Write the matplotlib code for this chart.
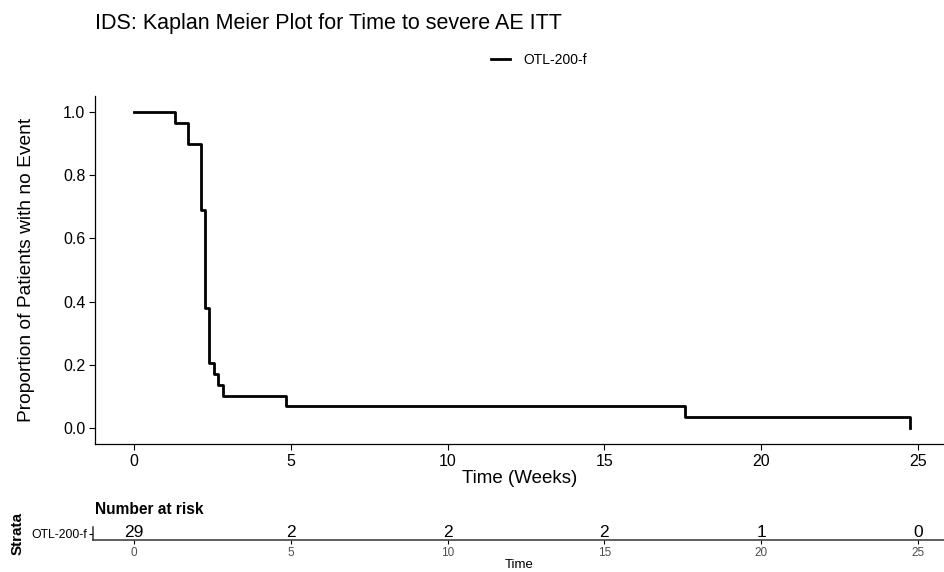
import numpy as np
import matplotlib
matplotlib.use("Agg")
import matplotlib.pyplot as plt

plt.rcParams['font.family'] = ['Liberation Sans', 'DejaVu Sans']

# survival curve (weeks, proportion with no event)
times = [0, 1.31, 1.72, 2.14, 2.27, 2.39, 2.55, 2.68, 2.84, 4.85, 17.57, 24.73]
surv = [1.0, 0.966, 0.897, 0.690, 0.379, 0.207, 0.172, 0.138, 0.103, 0.069, 0.034, 0.0]

# number at risk table
risk_times = [0, 5, 10, 15, 20, 25]
n_risk = [29, 2, 2, 2, 1, 0]
strata = ['OTL-200-f']

W, H = 945, 572
fig = plt.figure(figsize=(W / 100, H / 100), dpi=100)

def box(l, t, r, b):
    return [l / W, 1 - b / H, (r - l) / W, (b - t) / H]

x0, scale = 134, 31.36  # pixel of t=0, pixels per week

ax = fig.add_axes(box(95, 96, 945, 444))
ax.step(times, surv, where='post', color='black', lw=2.0, label=strata[0])
ax.set_xlim((95 - x0) / scale, (945 - x0) / scale)
ax.set_ylim(-0.05, 1.05)
ax.set_xticks([0, 5, 10, 15, 20, 25])
ax.set_yticks([0, 0.2, 0.4, 0.6, 0.8, 1.0])
ax.set_yticklabels(['0.0', '0.2', '0.4', '0.6', '0.8', '1.0'])
ax.tick_params(labelsize=11.5, length=4, width=0.8, colors='black', pad=3)
for s in ['top', 'right']:
    ax.spines[s].set_visible(False)
for s in ['left', 'bottom']:
    ax.spines[s].set_linewidth(0.9)
ax.set_xlabel('Time (Weeks)', fontsize=13.5, labelpad=1)
ax.set_ylabel('Proportion of Patients with no Event', fontsize=13.8, labelpad=20)

fig.text(95 / W, 1 - 29 / H, 'IDS: Kaplan Meier Plot for Time to severe AE ITT',
         fontsize=15.5, va='baseline', ha='left')
fig.legend(loc='center left', bbox_to_anchor=(484 / W, 1 - 60 / H), frameon=False,
           fontsize=10, handlelength=1.4, handletextpad=0.9, borderpad=0)

# risk table
rt = fig.add_axes(box(93, 527, 945, 540))
rt.set_xlim((93 - x0) / scale, (945 - x0) / scale)
rt.set_ylim(-0.5, 0.5)
for t, n in zip(risk_times, n_risk):
    rt.text(t, 0.05, str(n), ha='center', va='center', fontsize=12.5)
rt.set_yticks([0])
rt.set_yticklabels(strata)
rt.set_xticks(risk_times)
rt.tick_params(axis='x', labelsize=8.5, labelcolor='#4d4d4d', length=3, pad=2)
rt.tick_params(axis='y', labelsize=8.8, length=3, pad=1)
for s in ['top', 'right']:
    rt.spines[s].set_visible(False)
for s in ['left', 'bottom']:
    rt.spines[s].set_linewidth(1.1)
    rt.spines[s].set_color('#333333')
rt.set_xlabel('Time', fontsize=9.5, labelpad=0)
rt.set_ylabel('Strata', fontsize=11, fontweight='bold', labelpad=5)
rt.set_title('Number at risk', fontsize=11.2, fontweight='bold', loc='left', pad=9, x=0.002)

fig.savefig('out.png', dpi=100)
